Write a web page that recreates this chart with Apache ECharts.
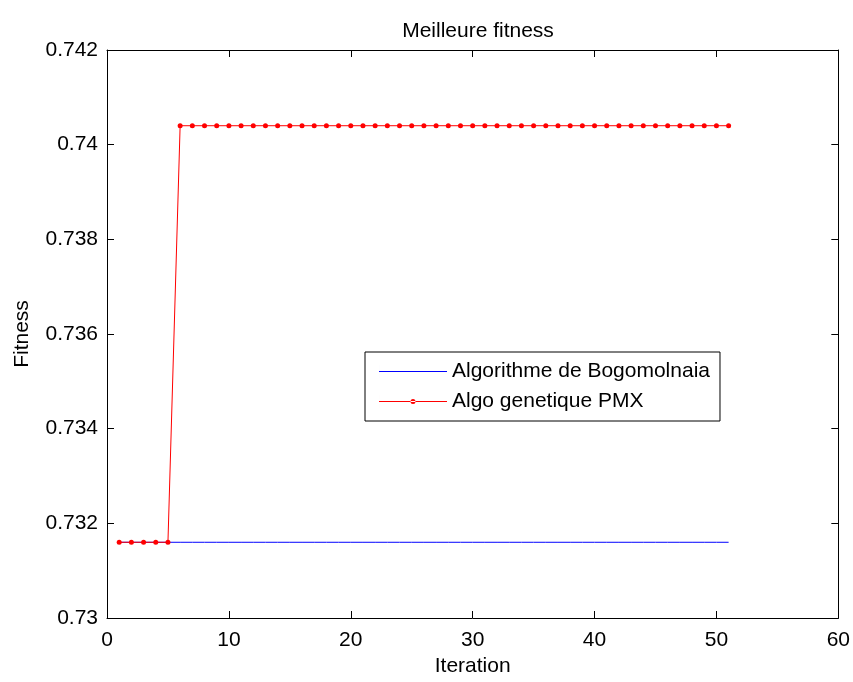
<!DOCTYPE html>
<html>
<head>
<meta charset="utf-8">
<script src="https://cdn.jsdelivr.net/npm/echarts@6/dist/echarts.min.js"></script>
<style>
  html, body { margin: 0; padding: 0; background: #fff; }
  #chart { width: 853px; height: 682px; }
</style>
</head>
<body>
<div id="chart"></div>
<script>
// ===== Data =====
const iterations = [1,2,3,4,5,6,7,8,9,10,11,12,13,14,15,16,17,18,19,20,21,22,23,24,25,26,27,28,29,30,31,32,33,34,35,36,37,38,39,40,41,42,43,44,45,46,47,48,49,50,51];
const bogomolnaia = [0.7316,0.7316,0.7316,0.7316,0.7316,0.7316,0.7316,0.7316,0.7316,0.7316,0.7316,0.7316,0.7316,0.7316,0.7316,0.7316,0.7316,0.7316,0.7316,0.7316,0.7316,0.7316,0.7316,0.7316,0.7316,0.7316,0.7316,0.7316,0.7316,0.7316,0.7316,0.7316,0.7316,0.7316,0.7316,0.7316,0.7316,0.7316,0.7316,0.7316,0.7316,0.7316,0.7316,0.7316,0.7316,0.7316,0.7316,0.7316,0.7316,0.7316,0.7316];
const pmx = [0.7316,0.7316,0.7316,0.7316,0.7316,0.7404,0.7404,0.7404,0.7404,0.7404,0.7404,0.7404,0.7404,0.7404,0.7404,0.7404,0.7404,0.7404,0.7404,0.7404,0.7404,0.7404,0.7404,0.7404,0.7404,0.7404,0.7404,0.7404,0.7404,0.7404,0.7404,0.7404,0.7404,0.7404,0.7404,0.7404,0.7404,0.7404,0.7404,0.7404,0.7404,0.7404,0.7404,0.7404,0.7404,0.7404,0.7404,0.7404,0.7404,0.7404,0.7404];
const seriesNames = ['Algorithme de Bogomolnaia', 'Algo genetique PMX'];

const FONT = 'Liberation Sans, Arial, sans-serif';
const FS = 21;

const pairs = ys => iterations.map((x, i) => [x, ys[i]]);

// legend icons: plain line / line with a dot in the middle (68 x 14 box)
const iconLine = 'path://M0,6.5H68V7.5H0Z M0,0H0.01V14H0Z';
const iconLineDot = 'path://M0,6.5H68V7.5H0Z M31.5,7A2.5,2.5 0 1,0 36.5,7A2.5,2.5 0 1,0 31.5,7Z M0,0H0.01V14H0Z';

// ===== Chart =====
const chart = echarts.init(document.getElementById('chart'));
const tick = { show: true, inside: true, length: 7, lineStyle: { color: '#000' } };
const line = { show: true, onZero: false, lineStyle: { color: '#000', width: 1 } };

chart.setOption({
  animation: false,
  backgroundColor: '#fff',
  textStyle: { fontFamily: FONT, color: '#000' },
  title: {
    text: 'Meilleure fitness',
    left: 473, top: 16, textAlign: 'center',
    textStyle: { fontFamily: FONT, fontSize: FS, fontWeight: 'normal', color: '#000' }
  },
  grid: { left: 107, right: 14, top: 50, bottom: 56 },
  legend: {
    orient: 'vertical',
    left: 365, top: 352,
    padding: [9, 10, 9, 14],
    itemGap: 9,
    itemWidth: 68, itemHeight: 14,
    backgroundColor: '#fff',
    borderColor: '#000', borderWidth: 1,
    textStyle: { fontFamily: FONT, fontSize: FS, color: '#000' },
    data: [
      { name: seriesNames[0], icon: iconLine, itemStyle: { color: '#0000ff' } },
      { name: seriesNames[1], icon: iconLineDot, itemStyle: { color: '#ff0000' } }
    ]
  },
  xAxis: [
    {
      type: 'value', min: 0, max: 60, interval: 10, position: 'bottom',
      name: 'Iteration', nameLocation: 'middle', nameGap: 38,
      nameTextStyle: { fontFamily: FONT, fontSize: FS, color: '#000' },
      axisLine: line, axisTick: tick, splitLine: { show: false },
      axisLabel: { fontFamily: FONT, fontSize: FS, color: '#000', margin: 12 }
    },
    {
      type: 'value', min: 0, max: 60, interval: 10, position: 'top',
      axisLine: line, axisTick: tick, splitLine: { show: false },
      axisLabel: { show: false }
    }
  ],
  yAxis: [
    {
      type: 'value', min: 0.73, max: 0.742, interval: 0.002, position: 'left',
      name: 'Fitness', nameLocation: 'middle', nameGap: 74,
      nameTextStyle: { fontFamily: FONT, fontSize: FS, color: '#000' },
      axisLine: line, axisTick: tick, splitLine: { show: false },
      axisLabel: {
        fontFamily: FONT, fontSize: FS, color: '#000', margin: 9,
        formatter: v => String(parseFloat(v.toFixed(3)))
      }
    },
    {
      type: 'value', min: 0.73, max: 0.742, interval: 0.002, position: 'right',
      axisLine: line, axisTick: tick, splitLine: { show: false },
      axisLabel: { show: false }
    }
  ],
  series: [
    {
      name: seriesNames[0], type: 'line', xAxisIndex: 0, yAxisIndex: 0,
      data: pairs(bogomolnaia), symbol: 'none',
      lineStyle: { color: '#0000ff', width: 1 }, itemStyle: { color: '#0000ff' }
    },
    {
      name: seriesNames[1], type: 'line', xAxisIndex: 0, yAxisIndex: 0,
      data: pairs(pmx), symbol: 'circle', symbolSize: 5, showSymbol: true,
      lineStyle: { color: '#ff0000', width: 1 }, itemStyle: { color: '#ff0000' }
    }
  ]
});
</script>
</body>
</html>
